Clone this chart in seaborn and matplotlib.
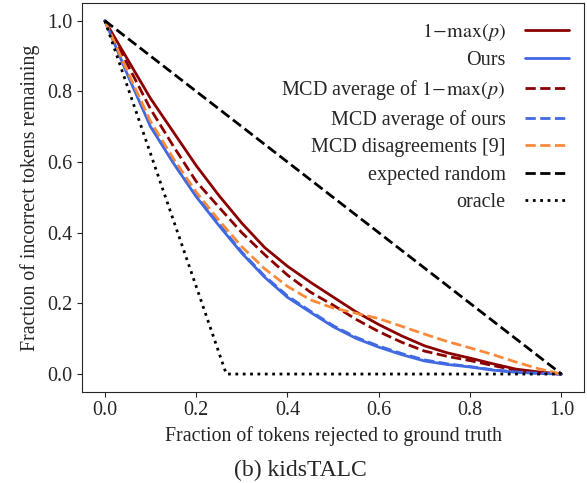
import matplotlib
matplotlib.use("Agg")
import matplotlib.pyplot as plt
import seaborn as sns
import pandas as pd

# Rejection curves: fraction of tokens sent to ground truth vs. incorrect tokens left
frac_rejected = [0.0, 0.05, 0.10, 0.15, 0.20, 0.25, 0.30, 0.35, 0.40, 0.45, 0.50,
                 0.55, 0.60, 0.65, 0.70, 0.75, 0.80, 0.85, 0.90, 0.95, 1.0]
one_minus_max = [1.0, 0.89, 0.78, 0.685, 0.59, 0.505, 0.427, 0.358, 0.305, 0.26, 0.218,
                 0.176, 0.14, 0.108, 0.08, 0.06, 0.045, 0.029, 0.014, 0.006, 0.0]
ours = [1.0, 0.846, 0.70, 0.597, 0.502, 0.42, 0.342, 0.274, 0.217, 0.175, 0.134,
        0.101, 0.076, 0.055, 0.037, 0.027, 0.02, 0.011, 0.005, 0.002, 0.0]
mcd_avg_max = [1.0, 0.875, 0.75, 0.645, 0.545, 0.472, 0.40, 0.338, 0.28, 0.232, 0.195,
               0.155, 0.12, 0.09, 0.065, 0.05, 0.038, 0.024, 0.011, 0.004, 0.0]
mcd_avg_ours = [1.0, 0.85, 0.705, 0.60, 0.505, 0.424, 0.345, 0.277, 0.221, 0.178, 0.137,
                0.104, 0.079, 0.058, 0.040, 0.029, 0.021, 0.012, 0.006, 0.002, 0.0]
mcd_disagree = [1.0, 0.855, 0.715, 0.61, 0.515, 0.435, 0.36, 0.298, 0.248, 0.21, 0.187,
                0.172, 0.157, 0.135, 0.113, 0.092, 0.074, 0.055, 0.034, 0.015, 0.0]

random_x = [0.0, 1.0]
random_y = [1.0, 0.0]
oracle_x = [0.0, 0.266, 1.0]
oracle_y = [1.0, 0.0, 0.0]

labels = [r"$1\!-\!\max(p)$", "Ours", r"MCD average of $1\!-\!\max(p)$",
          "MCD average of ours", "MCD disagreements [9]", "expected random", "oracle"]

sns.set_style("ticks")
plt.rcParams["font.family"] = ["Liberation Serif", "DejaVu Serif"]
plt.rcParams["mathtext.fontset"] = "stix"
plt.rcParams["xtick.labelsize"] = 14.5
plt.rcParams["ytick.labelsize"] = 14.5

fig = plt.figure(figsize=(5.87, 4.83), dpi=100)
ax = fig.add_axes([0.1397, 0.189, 0.8557, 0.8048])

lw = 2.0
series = [
    (frac_rejected, one_minus_max, "#8b0000", "-", labels[0]),
    (frac_rejected, ours, "#4169e1", "-", labels[1]),
    (frac_rejected, mcd_avg_max, "#8b0000", "--", labels[2]),
    (frac_rejected, mcd_avg_ours, "#4169e1", "--", labels[3]),
    (frac_rejected, mcd_disagree, "#fa8a3a", "--", labels[4]),
    (random_x, random_y, "black", "--", labels[5]),
    (oracle_x, oracle_y, "black", ":", labels[6]),
]
for xs, ys, col, ls, lab in series:
    df = pd.DataFrame({"x": xs, "y": ys})
    sns.lineplot(data=df, x="x", y="y", color=col, linestyle=ls, linewidth=lw,
                 label=lab, ax=ax, sort=False, estimator=None)

ax.set_xlim(-0.05, 1.05)
ax.set_ylim(-0.05, 1.05)
ax.set_xticks([0.0, 0.2, 0.4, 0.6, 0.8, 1.0])
ax.set_yticks([0.0, 0.2, 0.4, 0.6, 0.8, 1.0])
ax.set_xlabel("Fraction of tokens rejected to ground truth", fontsize=14.3, labelpad=4)
ax.set_ylabel("Fraction of incorrect tokens remaining", fontsize=14.3, labelpad=5)

ax.legend(loc="upper right", bbox_to_anchor=(1.006, 1.0), frameon=False,
          markerfirst=False, fontsize=14.5, handlelength=2.2, handletextpad=0.95,
          labelspacing=0.40, borderaxespad=0.5)

fig.text(0.511, 0.027, "(b) kidsTALC", ha="center", va="center", fontsize=17)

fig.savefig("out.png", dpi=100)
